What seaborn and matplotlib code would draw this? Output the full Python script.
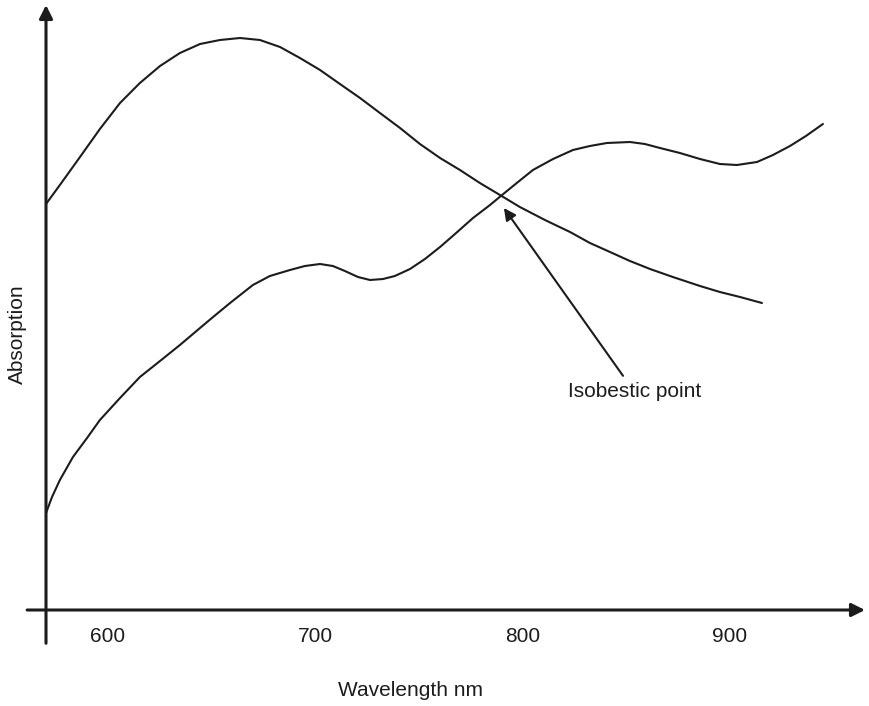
import pandas as pd
import matplotlib
matplotlib.use("Agg")
import matplotlib.pyplot as plt
import seaborn as sns

# 1 DATA (absorption in arbitrary units)
wl_a = [570.1, 576.8, 586.5, 596.1, 605.8, 615.4, 625.1, 634.7, 644.4, 654.0, 663.7,
        673.3, 683.0, 692.6, 702.3, 711.9, 721.6, 731.2, 740.9, 750.5, 760.2, 769.8,
        779.4, 789.1, 798.7, 810.8, 822.9, 832.5, 842.2, 851.8, 861.5, 872.5, 885.6,
        895.2, 904.9, 915.5]
abs_a = [4.06, 4.25, 4.53, 4.81, 5.07, 5.27, 5.44, 5.57, 5.66, 5.70, 5.72,
         5.70, 5.63, 5.52, 5.40, 5.26, 5.12, 4.97, 4.82, 4.66, 4.52, 4.40,
         4.27, 4.15, 4.03, 3.90, 3.78, 3.67, 3.58, 3.49, 3.41, 3.33, 3.24,
         3.18, 3.13, 3.07]

wl_b = [570.1, 573.0, 576.8, 583.1, 589.9, 596.1, 605.8, 615.4, 625.1, 634.7, 644.4,
        650.7, 658.9, 669.9, 678.1, 687.8, 695.0, 702.3, 708.5, 714.3, 720.6, 726.4,
        732.7, 738.4, 745.7, 752.9, 760.2, 767.4, 776.1, 784.3, 790.1, 797.8, 805.0,
        814.7, 824.3, 832.5, 840.7, 851.8, 859.0, 866.3, 875.9, 885.6, 895.2, 903.4,
        913.1, 920.8, 929.0, 936.7, 944.9]
abs_b = [0.97, 1.13, 1.30, 1.53, 1.72, 1.90, 2.12, 2.33, 2.49, 2.65, 2.82,
         2.93, 3.07, 3.25, 3.34, 3.40, 3.44, 3.46, 3.44, 3.39, 3.33, 3.30,
         3.31, 3.34, 3.41, 3.51, 3.63, 3.76, 3.92, 4.05, 4.15, 4.28, 4.40,
         4.51, 4.60, 4.64, 4.67, 4.68, 4.66, 4.62, 4.57, 4.51, 4.46, 4.45,
         4.48, 4.55, 4.64, 4.74, 4.86]

tick_values = [600, 700, 800, 900]
tick_labels = ["600", "700", "800", "900"]

# 2 STYLE
sns.set_style("white")
plt.rcParams["font.family"] = ["Liberation Sans", "DejaVu Sans"]
ink = "#1c1c1c"

curveA = pd.DataFrame({"wl": wl_a, "absorption": abs_a})
curveB = pd.DataFrame({"wl": wl_b, "absorption": abs_b})

# 3 PLOT
fig = plt.figure(figsize=(8.69, 7.06), dpi=100)
ax = fig.add_axes([46 / 869, 96 / 706, 819 / 869, 605 / 706])

for curve in (curveA, curveB):
    sns.lineplot(data=curve, x="wl", y="absorption", sort=False, estimator=None,
                 color=ink, lw=1.5, solid_joinstyle="round", ax=ax)

ax.set_xlim(570.1, 965.2)
ax.set_ylim(0, 6.05)
sns.despine(ax=ax, left=True, bottom=True)

ax.set_xticks(tick_values)
ax.set_xticklabels(tick_labels, fontsize=15)
ax.tick_params(axis="x", length=0, pad=12, colors=ink)
ax.set_yticks([])
ax.set_xlabel("")
ax.set_ylabel("")

# axis lines with arrow heads
ax.annotate("", xy=(1.0, 0.0), xytext=(-0.023, 0.0), xycoords="axes fraction",
            arrowprops=dict(arrowstyle="-|>", lw=2.2, color=ink, mutation_scale=20,
                            shrinkA=0, shrinkB=0))
ax.annotate("", xy=(0.0, 1.0), xytext=(0.0, -0.055), xycoords="axes fraction",
            arrowprops=dict(arrowstyle="-|>", lw=2.2, color=ink, mutation_scale=20,
                            shrinkA=0, shrinkB=0))

# isobestic point annotation
ax.annotate("Isobestic point", xy=(791, 4.02), xytext=(854, 2.18),
            ha="center", va="center", fontsize=15, color=ink,
            arrowprops=dict(arrowstyle="-|>", lw=1.5, color=ink, mutation_scale=18,
                            shrinkA=3, shrinkB=0))

fig.text(411 / 869, 1 - 690 / 706, "Wavelength nm", ha="center", va="center",
         fontsize=15, color=ink)
fig.text(17 / 869, 1 - 334 / 706, "Absorption", ha="center", va="center",
         rotation=90, fontsize=15, color=ink)

plt.savefig("out.png", dpi=100)
